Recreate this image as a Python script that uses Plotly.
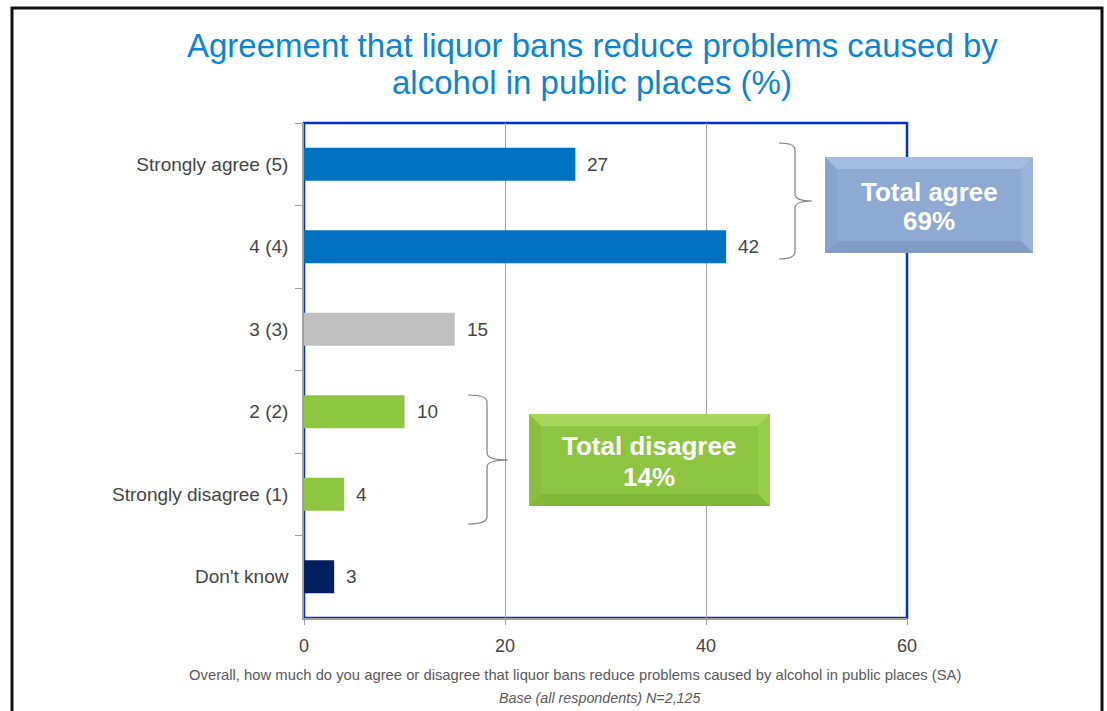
import plotly.graph_objects as go

# Survey responses (% of respondents)
categories = ["Strongly agree (5)", "4 (4)", "3 (3)", "2 (2)", "Strongly disagree (1)", "Don't know"]
values = [27, 42, 15, 10, 4, 3]
bar_colors = ["#0070C0", "#0070C0", "#BFBFBF", "#8DC63F", "#8DC63F", "#002060"]
x_ticks = [0, 20, 40, 60]

title_lines = ["Agreement that liquor bans reduce problems caused by",
               "alcohol in public places (%)"]
question_text = ("Overall, how much do you agree or disagree that liquor bans reduce "
                 "problems caused by alcohol in public places (SA)")
base_text = "Base (all respondents) N=2,125"
agree_label = ["Total agree", "69%"]
disagree_label = ["Total disagree", "14%"]

W, H = 1107, 711
L, R, T, B = 304, 200, 123, 93
PW, PH = W - L - R, H - T - B
FONT = "Liberation Sans, Arial, sans-serif"
GREY_TXT = "#454545"


def px(x):
    return (x - L) / PW


def py(y):
    return (H - B - y) / PH


fig = go.Figure()
fig.add_trace(go.Bar(
    x=values, y=categories, orientation="h",
    marker=dict(color=bar_colors, line=dict(width=0)),
    width=0.4, hoverinfo="skip",
))

annotations = []
# value labels next to each bar
for c, v in zip(categories, values):
    annotations.append(dict(x=v, y=c, xref="x", yref="y", text=str(v), showarrow=False,
                            xanchor="left", xshift=10,
                            font=dict(family=FONT, size=19, color=GREY_TXT)))

# title (two lines placed individually)
for line, yy in zip(title_lines, [45, 83]):
    annotations.append(dict(x=px(592), y=py(yy), xref="paper", yref="paper", text=line,
                            showarrow=False, xanchor="center", yanchor="middle",
                            font=dict(family=FONT, size=33, color="#0B85D0")))

# footnotes
annotations.append(dict(x=px(575), y=py(675), xref="paper", yref="paper", text=question_text,
                        showarrow=False, xanchor="center", yanchor="middle",
                        font=dict(family=FONT, size=14.8, color="#595959")))
annotations.append(dict(x=px(600), y=py(698), xref="paper", yref="paper",
                        text="<i>" + base_text + "</i>",
                        showarrow=False, xanchor="center", yanchor="middle",
                        font=dict(family=FONT, size=14.3, color="#595959")))

shapes = []


def path_from(points, close=False):
    d = ""
    for cmd, pts in points:
        d += cmd + " " + " ".join(f"{px(a):.5f},{py(b):.5f}" for a, b in pts) + " "
    if close:
        d += "Z"
    return d


def brace(x0, xm, xt, y0, ym, y1):
    r = 7
    return path_from([
        ("M", [(x0, y0)]),
        ("Q", [(xm, y0), (xm, y0 + r)]),
        ("L", [(xm, ym - r)]),
        ("Q", [(xm, ym), (xt, ym)]),
        ("Q", [(xm, ym), (xm, ym + r)]),
        ("L", [(xm, y1 - r)]),
        ("Q", [(xm, y1), (x0, y1)]),
    ])


for args in [(779, 795, 812, 143, 201, 259), (468, 487, 508, 395, 460, 524)]:
    shapes.append(dict(type="path", xref="paper", yref="paper", path=brace(*args),
                       line=dict(color="#7F7F7F", width=1.2)))


def polygon(pts):
    return path_from([("M", [pts[0]])] + [("L", [p]) for p in pts[1:]], close=True)


def bevel_box(x0, y0, x1, y1, b, face, top, left, right, bottom):
    out = []
    out.append(dict(type="rect", xref="paper", yref="paper",
                    x0=px(x0), x1=px(x1), y0=py(y1), y1=py(y0),
                    fillcolor=face, line=dict(width=0), layer="above"))
    # faces of the bevel
    for pts, col in [
        ([(x0, y0), (x1, y0), (x1 - b, y0 + b), (x0 + b, y0 + b)], top),
        ([(x0, y0), (x0 + b, y0 + b), (x0 + b, y1 - b), (x0, y1)], left),
        ([(x1, y0), (x1, y1), (x1 - b, y1 - b), (x1 - b, y0 + b)], right),
        ([(x0, y1), (x0 + b, y1 - b), (x1 - b, y1 - b), (x1, y1)], bottom),
    ]:
        out.append(dict(type="path", xref="paper", yref="paper", path=polygon(pts),
                        fillcolor=col, line=dict(width=0), layer="above"))
    return out


shapes += bevel_box(825, 157, 1033, 253, 12, "#8EAAD2", "#A4BDE0", "#86A3CD", "#99B4DA", "#819DC7")
shapes += bevel_box(529, 414, 770, 506, 12, "#8DC441", "#A6D75C", "#88BF3D", "#96CD49", "#82B83A")

for lines, cx, ys in [(agree_label, 929, [192, 221]), (disagree_label, 649, [446, 477])]:
    for t, yy in zip(lines, ys):
        annotations.append(dict(x=px(cx), y=py(yy), xref="paper", yref="paper",
                                text="<b>" + t + "</b>", showarrow=False,
                                xanchor="center", yanchor="middle",
                                font=dict(family=FONT, size=26, color="white")))

# blue frame around the plot area
shapes.append(dict(type="rect", xref="paper", yref="paper", x0=0, x1=1, y0=0, y1=1,
                   line=dict(color="#0033CC", width=2.5), layer="below"))
# outer page frame
shapes.append(dict(type="rect", xref="paper", yref="paper",
                   x0=px(12), x1=px(1102), y0=py(730), y1=py(8),
                   line=dict(color="#111111", width=3)))

fig.update_layout(
    width=W, height=H,
    margin=dict(l=L, r=R, t=T, b=B, autoexpand=False),
    paper_bgcolor="white", plot_bgcolor="white",
    showlegend=False, bargap=0.6,
    annotations=annotations, shapes=shapes,
    font=dict(family=FONT, color=GREY_TXT),
)
fig.update_xaxes(
    range=[0, 60], tickvals=x_ticks, ticks="outside", ticklen=5, tickcolor="#A0A0A0",
    ticklabelstandoff=6,
    showgrid=True, gridcolor="#A0A0A0", gridwidth=1, zeroline=False,
    showline=True, linecolor="#A0A0A0", linewidth=1.5,
    tickfont=dict(family=FONT, size=18, color=GREY_TXT),
)
fig.update_yaxes(
    categoryorder="array", categoryarray=categories, autorange="reversed",
    ticks="outside", tickson="boundaries", ticklen=7, tickcolor="#A0A0A0",
    ticklabelstandoff=10,
    showgrid=False, showline=True, linecolor="#A0A0A0", linewidth=1.5,
    tickfont=dict(family=FONT, size=19, color=GREY_TXT),
)

fig.write_html("out.html")
